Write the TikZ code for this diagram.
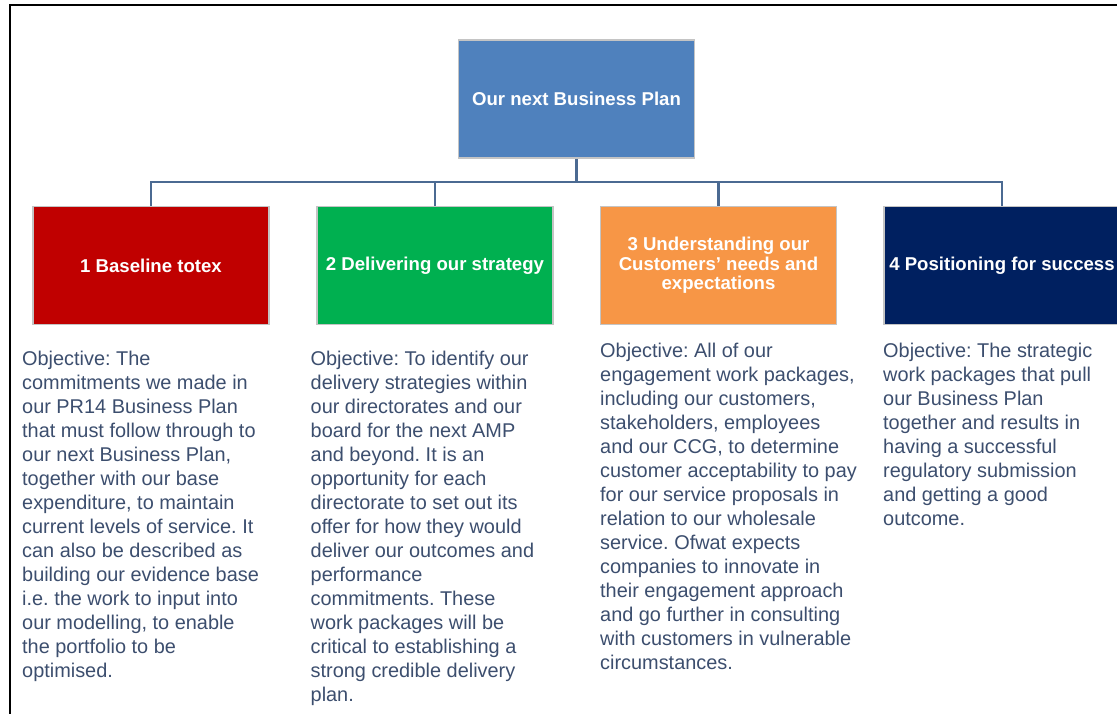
\documentclass[tikz,border=0pt]{standalone}
\usepackage{fontspec}
\setmainfont{Liberation Sans}
\frenchspacing
\definecolor{planblue}{HTML}{4F81BD}
\definecolor{baseRed}{HTML}{C00000}
\definecolor{stratGreen}{HTML}{00B050}
\definecolor{custOrange}{HTML}{F79646}
\definecolor{posNavy}{HTML}{002060}
\definecolor{linkBlue}{HTML}{4B6A92}
\definecolor{bodyText}{HTML}{3C4E6E}
\definecolor{edgeGrey}{HTML}{C4C4C4}
\tikzset{
  card/.style={draw=edgeGrey, line width=1.5pt, text=white,
    minimum width=236pt, minimum height=118pt, inner sep=2pt,
    align=center, font=\bfseries\fontsize{18.6}{19.5}\selectfont},
  link/.style={draw=linkBlue, line width=2.6pt},
  objective/.style={text=bodyText, inner sep=0pt, anchor=base west,
    font=\fontsize{19.9}{24}\selectfont},
  frameline/.style={draw=black, line width=2.6pt}
}
\newcommand{\objtext}[1]{\begin{minipage}[t]{300pt}\raggedright #1\end{minipage}}
\begin{document}
\begin{tikzpicture}[x=1pt,y=-1pt]
\useasboundingbox (0,0) rectangle (1117,713);
\clip (0,0) rectangle (1117,713);
% outer frame (left and top edges)
\draw[frameline] (10,714) -- (10,5) -- (1118,5);

% boxes
\node[card, fill=planblue] (plan) at (576.5,99) {Our next Business Plan};
\node[card, fill=baseRed] (b1) at (151,265.5) {1 Baseline totex};
\node[card, fill=stratGreen] (b2) at (435,265.5) {2 Delivering our strategy};
\node[card, fill=custOrange] (b3) at (718.5,265.5) {3 Understanding our\\Customers' needs and\\expectations};
\node[card, fill=posNavy] (b4) at (1002,265.5) {4 Positioning for success};

% connectors
\coordinate (bus) at (576.5,182);
\draw[link] (plan.south) -- (bus);
\draw[link] (bus) -| (b1.north);
\draw[link] (bus) -| (b2.north);
\draw[link] (bus) -| (b3.north);
\draw[link] (bus) -| (b4.north);

% objectives
\node[objective] (o1) at (22,365) {\objtext{Objective: The\\
commitments we made in\\
our PR14 Business Plan\\
that must follow through to\\
our next Business Plan,\\
together with our base\\
expenditure, to maintain\\
current levels of service. It\\
can also be described as\\
building our evidence base\\
i.e. the work to input into\\
our modelling, to enable\\
the portfolio to be\\
optimised.}};

\node[objective] (o2) at (310.5,365.5) {\objtext{Objective: To identify our\\
delivery strategies within\\
our directorates and our\\
board for the next AMP\\
and beyond. It is an\\
opportunity for each\\
directorate to set out its\\
offer for how they would\\
deliver our outcomes and\\
performance\\
commitments. These\\
work packages will be\\
critical to establishing a\\
strong credible delivery\\
plan.}};

\node[objective] (o3) at (600,357) {\objtext{Objective: All of our\\
engagement work packages,\\
including our customers,\\
stakeholders, employees\\
and our CCG, to determine\\
customer acceptability to pay\\
for our service proposals in\\
relation to our wholesale\\
service. Ofwat expects\\
companies to innovate in\\
their engagement approach\\
and go further in consulting\\
with customers in vulnerable\\
circumstances.}};

\node[objective] (o4) at (883,357) {\objtext{Objective: The strategic\\
work packages that pull\\
our Business Plan\\
together and results in\\
having a successful\\
regulatory submission\\
and getting a good\\
outcome.}};
\end{tikzpicture}
\end{document}
